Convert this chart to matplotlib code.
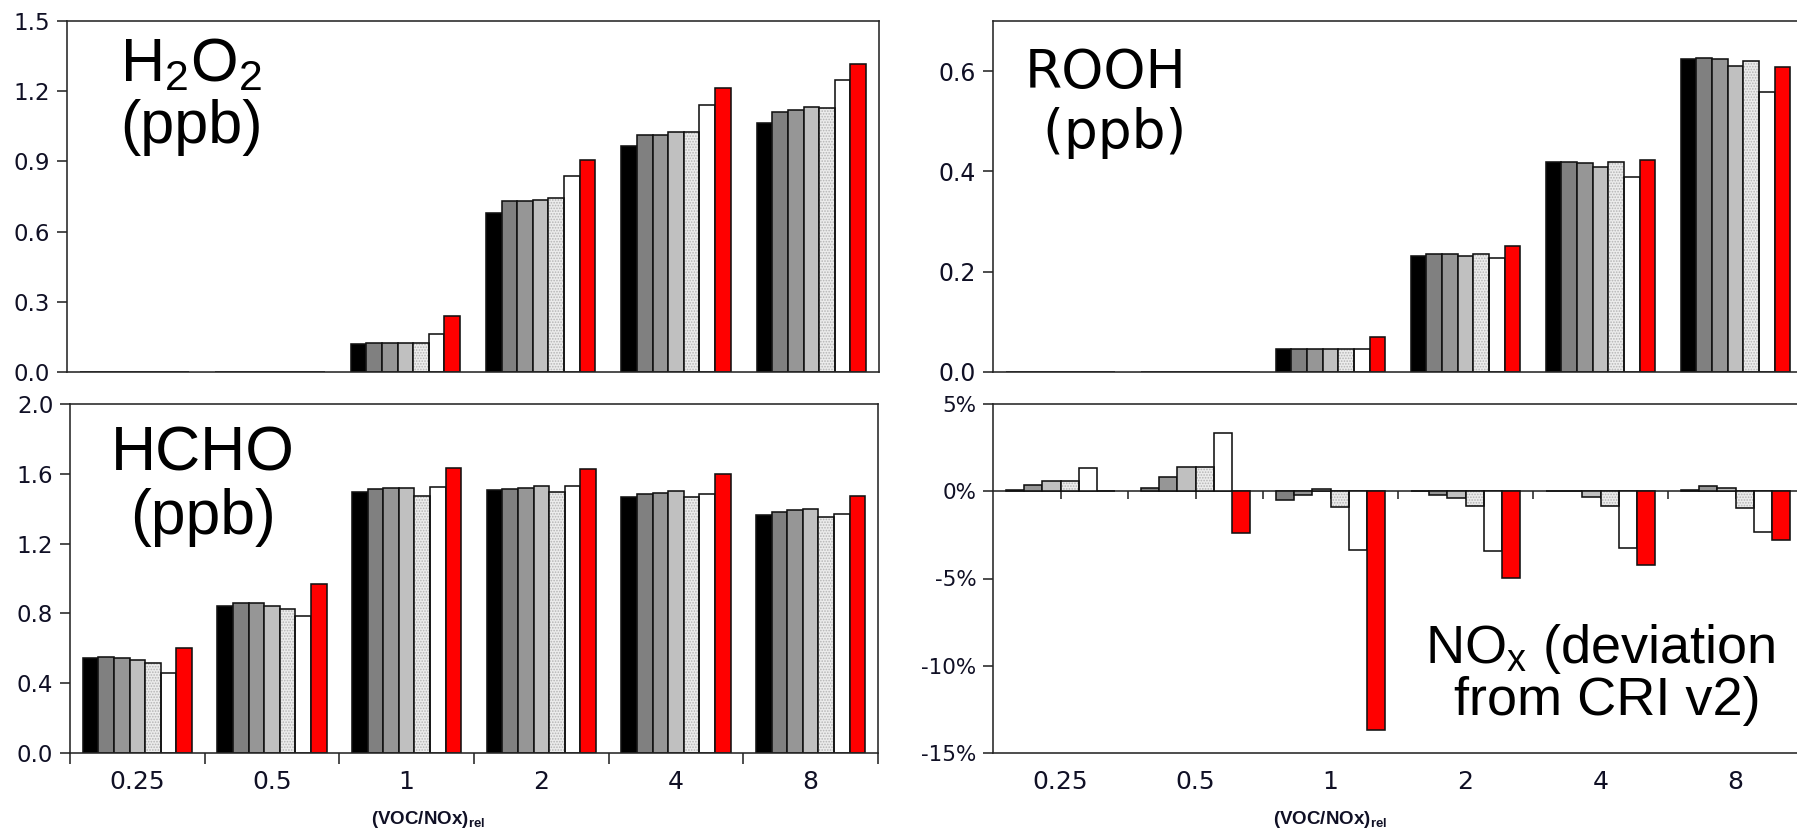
import matplotlib
matplotlib.use('Agg')
import matplotlib.pyplot as plt
import numpy as np
from matplotlib.ticker import FuncFormatter

# ---------------- data ----------------
categories = ['0.25', '0.5', '1', '2', '4', '8']

# seven series per group (black, dark grey, grey, light grey, dotted, white, red)
h2o2_vals = [
    [0, 0, 0.120, 0.681, 0.966, 1.066],
    [0, 0, 0.125, 0.729, 1.013, 1.112],
    [0, 0, 0.125, 0.729, 1.013, 1.120],
    [0, 0, 0.125, 0.736, 1.027, 1.134],
    [0, 0, 0.125, 0.743, 1.027, 1.127],
    [0, 0, 0.161, 0.836, 1.142, 1.248],
    [0, 0, 0.240, 0.904, 1.212, 1.318],
]
rooh_vals = [
    [0, 0, 0.046, 0.232, 0.419, 0.625],
    [0, 0, 0.046, 0.235, 0.419, 0.627],
    [0, 0, 0.046, 0.235, 0.416, 0.624],
    [0, 0, 0.046, 0.231, 0.409, 0.610],
    [0, 0, 0.046, 0.235, 0.419, 0.621],
    [0, 0, 0.046, 0.228, 0.389, 0.558],
    [0, 0, 0.069, 0.251, 0.422, 0.608],
]
hcho_vals = [
    [0.545, 0.842, 1.493, 1.505, 1.469, 1.364],
    [0.553, 0.861, 1.513, 1.513, 1.482, 1.380],
    [0.543, 0.861, 1.520, 1.520, 1.492, 1.390],
    [0.534, 0.842, 1.520, 1.530, 1.502, 1.398],
    [0.514, 0.823, 1.472, 1.493, 1.466, 1.350],
    [0.457, 0.784, 1.522, 1.530, 1.484, 1.370],
    [0.601, 0.967, 1.636, 1.626, 1.600, 1.475],
]
# deviation of NOx from CRI v2 (%), six series (no black reference)
nox_dev = [
    [0.10, 0.20, -0.50, 0.00, 0.00, 0.10],
    [0.38, 0.84, -0.23, -0.23, 0.00, 0.29],
    [0.58, 1.41, 0.11, -0.38, -0.32, 0.21],
    [0.58, 1.41, -0.88, -0.86, -0.87, -0.96],
    [1.35, 3.34, -3.34, -3.42, -3.28, -2.31],
    [0.00, -2.42, -13.7, -4.95, -4.20, -2.78],
]

colors7 = ['#000000', '#808080', '#969696', '#c0c0c0', '#ececec', '#ffffff', '#ff0000']
hatch7 = [False, False, False, False, True, False, False]
colors6 = colors7[1:]
hatch6 = hatch7[1:]

# ---------------- style ----------------
plt.rcParams['font.family'] = ['DejaVu Sans']
plt.rcParams['mathtext.fontset'] = 'custom'
plt.rcParams['mathtext.rm'] = 'Liberation Sans'
plt.rcParams['mathtext.it'] = 'Liberation Sans:italic'
plt.rcParams['mathtext.bf'] = 'Liberation Sans:bold'
plt.rcParams['hatch.linewidth'] = 0.8

ARIAL = ['Liberation Sans', 'DejaVu Sans']
WIDE = ['DejaVu Sans']

W, H, DPI = 1797, 831, 100
fig = plt.figure(figsize=(W / DPI, H / DPI), dpi=DPI)
fig.patch.set_facecolor('white')

SPINE = '#262626'
TXT = '#101025'


def add_ax(l, t, r, b):
    return fig.add_axes([l / W, 1 - b / H, (r - l) / W, (b - t) / H])


def style(ax, ysize):
    for s in ax.spines.values():
        s.set_color(SPINE)
        s.set_linewidth(1.15)
    ax.tick_params(axis='y', direction='out', length=7, width=1.15, color=SPINE,
                   labelsize=ysize, labelcolor=TXT, pad=5)
    ax.set_xlim(-0.5, len(categories) - 0.5)


def draw_bars(ax, rows, colors, hatches):
    n = len(rows)
    total = 0.81
    w = total / n
    x = np.arange(len(categories))
    for j, vals in enumerate(rows):
        xs = x - total / 2 + (j + 0.5) * w
        if hatches[j]:
            ax.bar(xs, vals, w, color=colors[j], edgecolor='#b4b4b4', linewidth=0,
                   hatch='......', zorder=2)
            ax.bar(xs, vals, w, facecolor='none', edgecolor='#111111', linewidth=1.15,
                   zorder=2.1)
        else:
            ax.bar(xs, vals, w, color=colors[j], edgecolor='#111111', linewidth=1.15,
                   zorder=2)


ax_tl = add_ax(67, 21, 879, 372)
ax_bl = add_ax(70, 404, 878, 753)
ax_tr = add_ax(993, 21, 1803, 372)
ax_br = add_ax(993, 404, 1803, 753)

style(ax_tl, 16.5)
style(ax_bl, 16.5)
style(ax_tr, 17)
style(ax_br, 15.5)

draw_bars(ax_tl, h2o2_vals, colors7, hatch7)
draw_bars(ax_tr, rooh_vals, colors7, hatch7)
draw_bars(ax_bl, hcho_vals, colors7, hatch7)
draw_bars(ax_br, nox_dev, colors6, hatch6)

centers = np.arange(len(categories))
bounds = np.arange(-0.5, len(categories) + 0.5, 1.0)

# top panels: no x ticks
for ax in (ax_tl, ax_tr):
    ax.set_xticks([])

ax_tl.set_ylim(0, 1.5)
ax_tl.set_yticks(np.arange(0, 1.51, 0.3))
ax_tl.yaxis.set_major_formatter(FuncFormatter(lambda v, p: f'{v:.1f}'))

ax_tr.set_ylim(0, 0.7)
ax_tr.set_yticks([0, 0.2, 0.4, 0.6])
ax_tr.yaxis.set_major_formatter(FuncFormatter(lambda v, p: f'{v:.1f}'))

ax_bl.set_ylim(0, 2.0)
ax_bl.set_yticks(np.arange(0, 2.01, 0.4))
ax_bl.yaxis.set_major_formatter(FuncFormatter(lambda v, p: f'{v:.1f}'))

ax_br.set_ylim(-15, 5)
ax_br.set_yticks([5, 0, -5, -10, -15])
ax_br.yaxis.set_major_formatter(FuncFormatter(lambda v, p: f'{int(round(v))}%'))

# bottom-left x axis: ticks at group boundaries, labels at centres
ax_bl.set_xticks(bounds)
ax_bl.set_xticklabels([])
ax_bl.set_xticks(centers, minor=True)
ax_bl.set_xticklabels(categories, minor=True)
ax_bl.tick_params(axis='x', which='major', direction='out', length=8, width=1.15, color=SPINE)
ax_bl.tick_params(axis='x', which='minor', length=0, labelsize=18, labelcolor=TXT, pad=12)

# bottom-right: labels at bottom, ticks on the zero line
ax_br.set_xticks([])
ax_br.set_xticks(centers, minor=True)
ax_br.set_xticklabels(categories, minor=True)
ax_br.tick_params(axis='x', which='minor', length=0, labelsize=18, labelcolor=TXT, pad=12)
sec = ax_br.secondary_xaxis(15 / 20)
sec.set_alignment('bottom')
sec.set_xticks(np.sort(np.concatenate([centers, bounds[1:]])))
sec.tick_params(axis='x', direction='out', length=6, width=1.15, color=SPINE, labelbottom=False)
sec.spines['bottom'].set_color(SPINE)
sec.spines['bottom'].set_linewidth(1.15)

xlab = r'(VOC/NOx)$_{\mathbf{rel}}$'
for ax, cx, l, r in ((ax_bl, 428, 70, 878), (ax_br, 1330, 993, 1803)):
    ax.set_xlabel(xlab, fontsize=13.5, fontweight='bold', color=TXT, family=ARIAL)
    ax.xaxis.set_label_coords((cx - l) / (r - l), -0.16)

# panel annotations
ax_tl.text((191 - 67) / 812, (372 - 97) / 351, 'H$_2$O$_2$\n(ppb)', transform=ax_tl.transAxes,
           ha='center', va='center', fontsize=44, linespacing=1.1, color='black',
           family=ARIAL)
ax_tr.text((1106 - 993) / 810, (372 - 103) / 351, 'ROOH\n (ppb)', transform=ax_tr.transAxes,
           ha='center', va='center', fontsize=38.5, linespacing=1.2, color='black',
           family=WIDE)
ax_bl.text((203 - 70) / 808, (753 - 486) / 349, 'HCHO\n(ppb)', transform=ax_bl.transAxes,
           ha='center', va='center', fontsize=45, linespacing=1.1, color='black',
           family=ARIAL)
ax_br.text((1600 - 993) / 810, (753 - 674) / 349, 'NO$_\\mathrm{x}$ (deviation\n from CRI v2)',
           transform=ax_br.transAxes, ha='center', va='center', fontsize=39,
           linespacing=1.0, multialignment='center', color='black', family=ARIAL)

fig.savefig('out.png', dpi=DPI)
